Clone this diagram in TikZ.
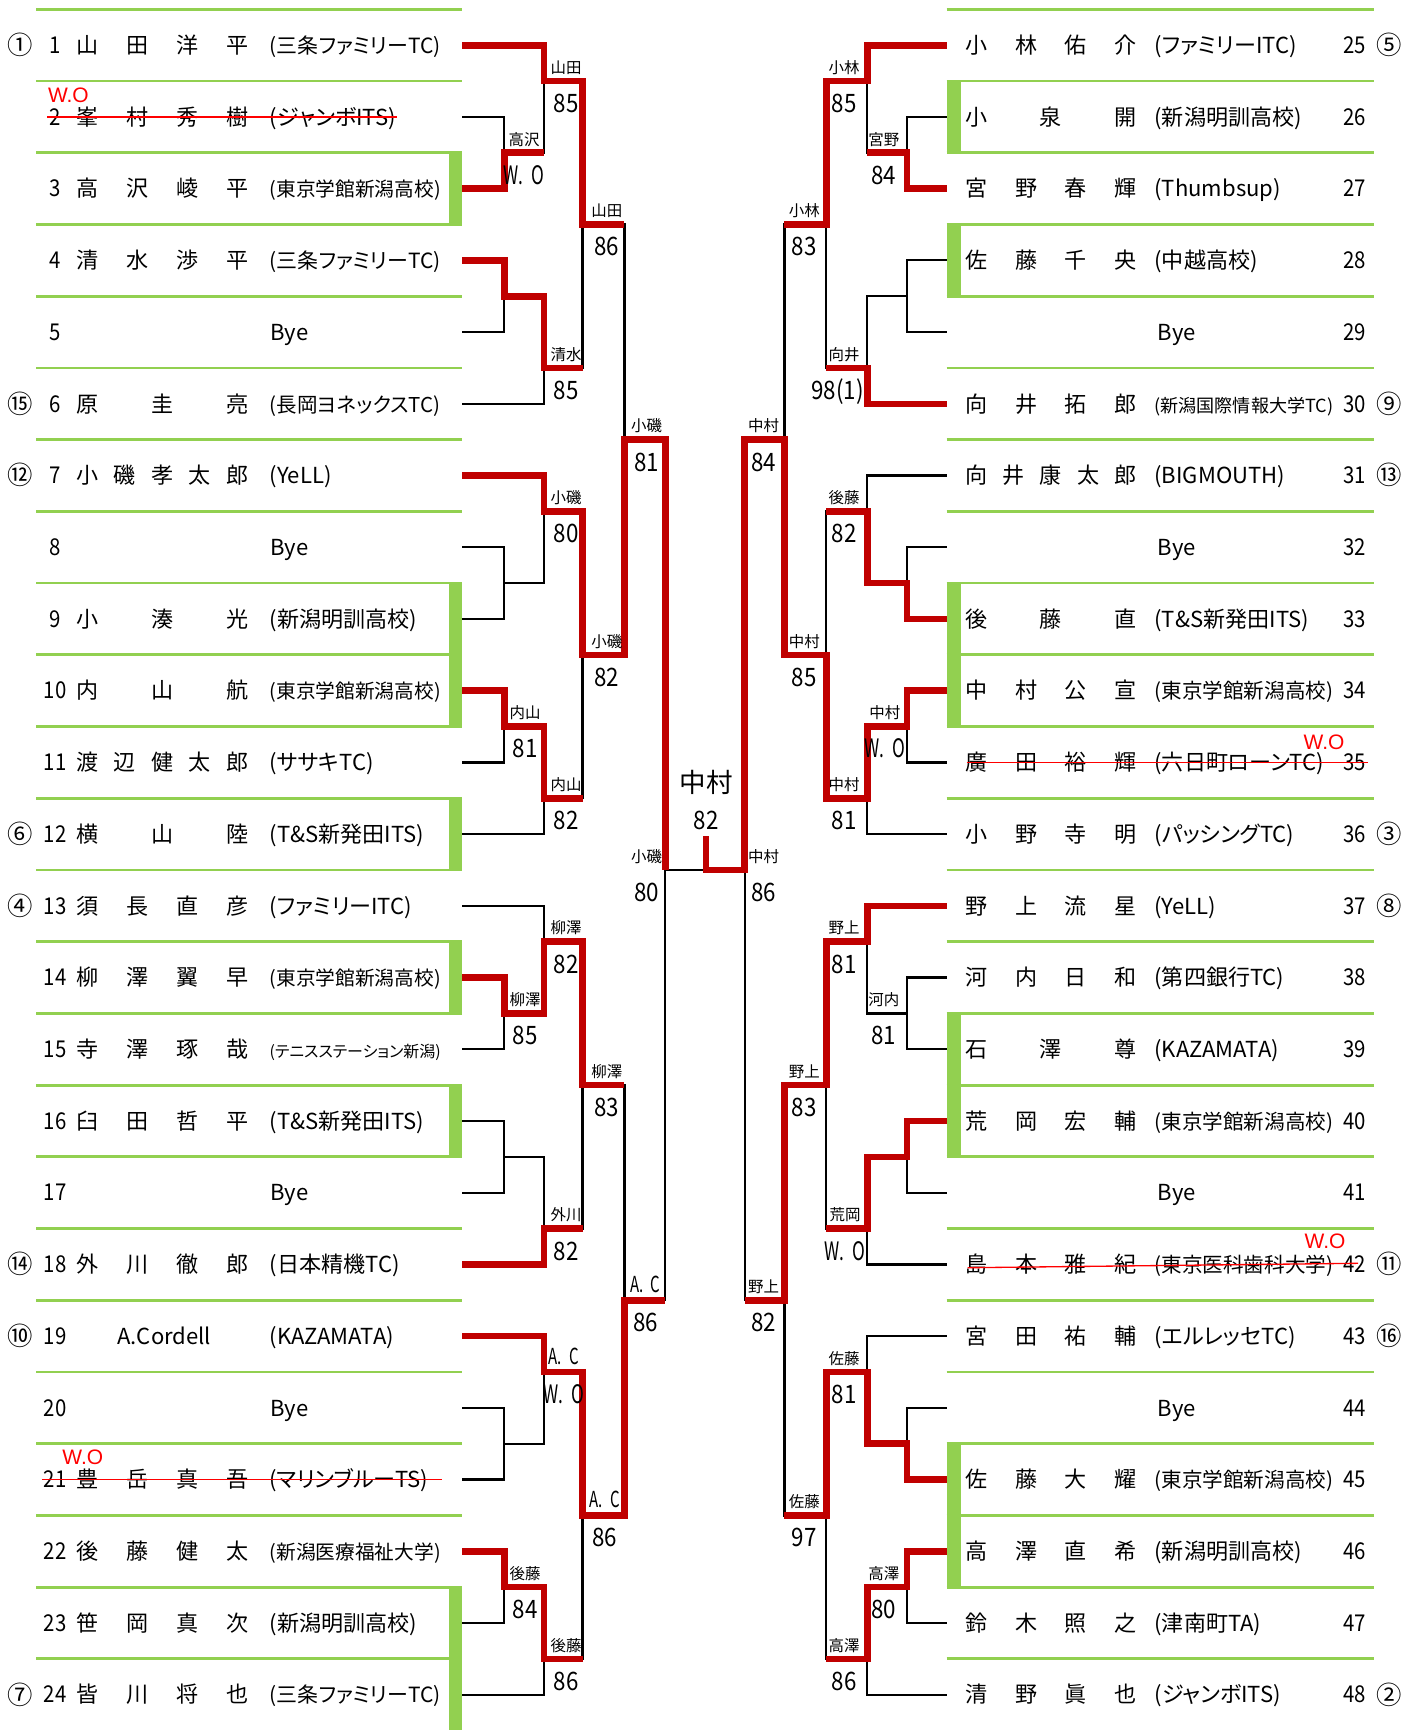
\documentclass[tikz,border=0pt]{standalone}
\usepackage{fontspec}
\usepackage{graphicx}
\setmainfont{Noto Sans CJK JP}
\newfontfamily\jpp[RawFeature=+palt]{Noto Sans CJK JP}
\newfontfamily\numf[FakeStretch=0.88]{Noto Sans CJK JP}
\newfontfamily\condf[FakeStretch=0.68]{Noto Sans CJK JP}
\newfontfamily\arialf{Liberation Sans}
\definecolor{winred}{HTML}{C00000}
\definecolor{boxgreen}{HTML}{92D050}
\definecolor{wored}{HTML}{FF0000}
\newsavebox\fitbox
\newcommand\fitclub[2]{\sbox\fitbox{#2}\ifdim\wd\fitbox>#1\relax\resizebox{#1}{!}{\usebox\fitbox}\else\usebox\fitbox\fi}
\newcommand\AC{{\condf\fontsize{10}{11}\selectfont A.\,\,C}}
\newcommand\WO{{\condf\fontsize{11.5}{13}\selectfont W.\,\,O}}
\tikzset{
 bk/.style={line width=1pt, black},
 win/.style={line width=3pt, winred},
 gline/.style={line width=1.25pt, boxgreen},
 rt/.style={inner sep=0pt, font=\fontsize{10}{12}\selectfont, anchor=base},
 seed/.style={inner sep=0pt, font=\fontsize{11.5}{13}\selectfont, anchor=base},
 rnum/.style={inner sep=0pt, font=\numf\fontsize{10.5}{12}\selectfont, anchor=base},
 club/.style={inner sep=0pt, font=\jpp\fontsize{10}{12}\selectfont, anchor=base west},
 nl/.style={inner sep=0pt, font=\fontsize{7}{8}\selectfont, anchor=base},
 sc/.style={inner sep=0pt, font=\numf\fontsize{11.5}{13}\selectfont, anchor=base},
 strike/.style={line width=0.6pt, wored},
 wo/.style={inner sep=0pt, font=\arialf\fontsize{9.5}{11}\selectfont, text=wored, anchor=base},
}
\newcommand\Lrow[6]{%
 \pgfmathsetmacro\yy{41+65*(#1-1)+7.5}%
 \ifx\relax#2\relax\else\node[seed] (Lseed#1) at (18,\yy+1) {#2};\fi
 \node[rnum] (Lnum#1) at (50,\yy) {#3};
 \foreach \nm [count=\nk from 0] in {#5}{\pgfmathsetmacro\xx{79+136*\nk/(#4-1)}\node[rt] (Lname#1x\nk) at (\xx,\yy) {\nm};}
 \node[club] (Lclub#1) at (244,\yy) {\fitclub{77.5pt}{#6}};
}
\newcommand\LBye[2]{%
 \pgfmathsetmacro\yy{41+65*(#1-1)+7.5}%
 \node[rnum] (Lnum#1) at (50,\yy) {#2};
 \node[rt, anchor=base west] (Lbye#1) at (245,\yy) {Bye};
}
\newcommand\Rrow[6]{%
 \pgfmathsetmacro\yy{41+65*(#1-1)+7.5}%
 \ifx\relax#2\relax\else\node[seed] (Rseed#1) at (1259,\yy+1) {#2};\fi
 \node[rnum] (Rnum#1) at (1228,\yy) {#3};
 \foreach \nm [count=\nk from 0] in {#5}{\pgfmathsetmacro\xx{885+135*\nk/(#4-1)}\node[rt] (Rname#1x\nk) at (\xx,\yy) {\nm};}
 \node[club] (Rclub#1) at (1046,\yy) {\fitclub{81pt}{#6}};
}
\newcommand\RBye[2]{%
 \pgfmathsetmacro\yy{41+65*(#1-1)+7.5}%
 \node[rnum] (Rnum#1) at (1228,\yy) {#2};
 \node[rt, anchor=base west] (Rbye#1) at (1049,\yy) {Bye};
}
\newcommand\mc[3]{\coordinate (#1) at (#2,{8.5+65*#3});}
\newcommand\mt[3]{\draw[bk] (#2) -| (#1); \draw[bk] (#3) -| (#1);}
\newcommand\lab[5]{%
 \node[nl] (#1t) at (#2,{8.5+65*#3-7}) {#4};
 \node[sc] (#1s) at (#2,{8.5+65*#3+28.5}) {#5};}
\begin{document}
\begin{tikzpicture}[x=0.5pt,y=-0.5pt]
\useasboundingbox (0,0) rectangle (1273,1568);
\fill[white] (0,0) rectangle (1273,1568);
% green separators
\foreach \k in {0,...,23}{
 \draw[gline] (33,{8.5+65*\k}) -- (419,{8.5+65*\k});
 \draw[gline] (858,{8.5+65*\k}) -- (1245,{8.5+65*\k});
}
% green bars left
\fill[boxgreen] (407,{8.5+65*2}) rectangle (419,{8.5+65*3});
\fill[boxgreen] (407,{8.5+65*8}) rectangle (419,{8.5+65*10});
\fill[boxgreen] (407,{8.5+65*11}) rectangle (419,{8.5+65*12});
\fill[boxgreen] (407,{8.5+65*13}) rectangle (419,{8.5+65*14});
\fill[boxgreen] (407,{8.5+65*15}) rectangle (419,{8.5+65*16});
\fill[boxgreen] (407,{8.5+65*22}) rectangle (419,1570);
% green bars right
\fill[boxgreen] (858,{8.5+65*1}) rectangle (871,{8.5+65*2});
\fill[boxgreen] (858,{8.5+65*3}) rectangle (871,{8.5+65*4});
\fill[boxgreen] (858,{8.5+65*8}) rectangle (871,{8.5+65*10});
\fill[boxgreen] (858,{8.5+65*14}) rectangle (871,{8.5+65*16});
\fill[boxgreen] (858,{8.5+65*20}) rectangle (871,{8.5+65*22});
% row end points
\foreach \i in {1,...,24}{
 \coordinate (rL\i) at (419,{41+65*(\i-1)});
 \coordinate (rR\i) at (858,{41+65*(\i-1)});
}
% left match points
\mc{a1}{457}{2}\mc{a2}{457}{4}\mc{a3}{457}{8}\mc{a4}{457}{10}
\mc{a5}{457}{14}\mc{a6}{457}{16}\mc{a7}{457}{20}\mc{a8}{457}{22}
\mc{b1}{493}{1}\mc{b2}{493}{5}\mc{b3}{493}{7}\mc{b4}{493}{11}
\mc{b5}{493}{13}\mc{b6}{493}{17}\mc{b7}{493}{19}\mc{b8}{493}{23}
\mc{c1}{528}{3}\mc{c2}{528}{9}\mc{c3}{528}{15}\mc{c4}{528}{21}
\mc{d1}{566}{6}\mc{d2}{566}{18}
\mc{e1}{603}{12}
% right match points
\mc{ra1}{822}{2}\mc{ra2}{822}{4}\mc{ra3}{822}{8}\mc{ra4}{822}{10}
\mc{ra5}{822}{14}\mc{ra6}{822}{16}\mc{ra7}{822}{20}\mc{ra8}{822}{22}
\mc{rb1}{786}{1}\mc{rb2}{786}{5}\mc{rb3}{786}{7}\mc{rb4}{786}{11}
\mc{rb5}{786}{13}\mc{rb6}{786}{17}\mc{rb7}{786}{19}\mc{rb8}{786}{23}
\mc{rc1}{749}{3}\mc{rc2}{749}{9}\mc{rc3}{749}{15}\mc{rc4}{749}{21}
\mc{rd1}{711}{6}\mc{rd2}{711}{18}
\mc{re1}{675}{12}
\coordinate (fin) at (640,{8.5+65*12});
\coordinate (fintop) at (640,758);
% black skeleton
\mt{a1}{rL2}{rL3}\mt{a2}{rL4}{rL5}\mt{a3}{rL8}{rL9}\mt{a4}{rL10}{rL11}
\mt{a5}{rL14}{rL15}\mt{a6}{rL16}{rL17}\mt{a7}{rL20}{rL21}\mt{a8}{rL22}{rL23}
\mt{b1}{rL1}{a1}\mt{b2}{a2}{rL6}\mt{b3}{rL7}{a3}\mt{b4}{a4}{rL12}
\mt{b5}{rL13}{a5}\mt{b6}{a6}{rL18}\mt{b7}{rL19}{a7}\mt{b8}{a8}{rL24}
\mt{c1}{b1}{b2}\mt{c2}{b3}{b4}\mt{c3}{b5}{b6}\mt{c4}{b7}{b8}
\mt{d1}{c1}{c2}\mt{d2}{c3}{c4}
\mt{e1}{d1}{d2}
\mt{ra1}{rR2}{rR3}\mt{ra2}{rR4}{rR5}\mt{ra3}{rR8}{rR9}\mt{ra4}{rR10}{rR11}
\mt{ra5}{rR14}{rR15}\mt{ra6}{rR16}{rR17}\mt{ra7}{rR20}{rR21}\mt{ra8}{rR22}{rR23}
\mt{rb1}{rR1}{ra1}\mt{rb2}{ra2}{rR6}\mt{rb3}{rR7}{ra3}\mt{rb4}{ra4}{rR12}
\mt{rb5}{rR13}{ra5}\mt{rb6}{ra6}{rR18}\mt{rb7}{rR19}{ra7}\mt{rb8}{ra8}{rR24}
\mt{rc1}{rb1}{rb2}\mt{rc2}{rb3}{rb4}\mt{rc3}{rb5}{rb6}\mt{rc4}{rb7}{rb8}
\mt{rd1}{rc1}{rc2}\mt{rd2}{rc3}{rc4}
\mt{re1}{rd1}{rd2}
\draw[bk] (e1) -- (re1);
% winners (red)
\draw[win] (rL1) -| (b1) -| (c1) -- (c1 -| d1);
\draw[win] (rL3) -| (a1) -- (a1 -| b1);
\draw[win] (rL4) -| (a2) -| (b2) -- (b2 -| c1);
\draw[win] (rL7) -| (b3) -| (c2) -| (d1) -| (e1);
\draw[win] (rL10) -| (a4) -| (b4) -- (b4 -| c2);
\draw[win] (rL14) -| (a5) -| (b5) -| (c3) -- (c3 -| d2);
\draw[win] (rL18) -| (b6) -- (b6 -| c3);
\draw[win] (rL19) -| (b7) -| (c4) -| (d2) -- (d2 -| e1);
\draw[win] (rL22) -| (a8) -| (b8) -- (b8 -| c4);
\draw[win] (rR1) -| (rb1) -| (rc1) -- (rc1 -| rd1);
\draw[win] (rR3) -| (ra1) -- (ra1 -| rb1);
\draw[win] (rR6) -| (rb2) -- (rb2 -| rc1);
\draw[win] (rR9) -| (ra3) -| (rb3) -- (rb3 -| rc2);
\draw[win] (rR10) -| (ra4) -| (rb4) -| (rc2) -| (rd1) -| (re1) -- (fin) -- (fintop);
\draw[win] (rR13) -| (rb5) -| (rc3) -| (rd2) -- (rd2 -| re1);
\draw[win] (rR16) -| (ra6) -| (rb6) -- (rb6 -| rc3);
\draw[win] (rR21) -| (ra7) -| (rb7) -| (rc4) -- (rc4 -| rd2);
\draw[win] (rR22) -| (ra8) -| (rb8) -- (rb8 -| rc4);
% match labels left
\lab{Ta1}{475}{2}{高沢}{\WO}
\lab{Ta4}{476}{10}{内山}{81}
\lab{Ta5}{476}{14}{柳澤}{85}
\lab{Ta8}{476}{22}{後藤}{84}
\lab{Tb1}{513}{1}{山田}{85}
\lab{Tb2}{513}{5}{清水}{85}
\lab{Tb3}{513}{7}{小磯}{80}
\lab{Tb4}{513}{11}{内山}{82}
\lab{Tb5}{513}{13}{柳澤}{82}
\lab{Tb6}{513}{17}{外川}{82}
\lab{Tb7}{511}{19}{\AC}{\WO}
\lab{Tb8}{513}{23}{後藤}{86}
\lab{Tc1}{550}{3}{山田}{86}
\lab{Tc2}{550}{9}{小磯}{82}
\lab{Tc3}{550}{15}{柳澤}{83}
\lab{Tc4}{548}{21}{\AC}{86}
\lab{Td1}{586}{6}{小磯}{81}
\lab{Te1}{586}{12}{小磯}{80}
\lab{Td2}{585}{18}{\AC}{86}
% match labels right
\lab{Ua1}{801}{2}{宮野}{84}
\lab{Ua4}{802}{10}{中村}{\WO}
\lab{Ua5}{801}{14}{河内}{81}
\lab{Ua8}{801}{22}{高澤}{80}
\lab{Ub1}{765}{1}{小林}{85}
\node[nl] (Ub2t) at (765,{8.5+65*5-7}) {向井};
\node[sc] (Ub2s) at (759,{8.5+65*5+28.5}) {98(1)};
\lab{Ub3}{765}{7}{後藤}{82}
\lab{Ub4}{765}{11}{中村}{81}
\lab{Ub5}{765}{13}{野上}{81}
\lab{Ub6}{766}{17}{荒岡}{\WO}
\lab{Ub7}{765}{19}{佐藤}{81}
\lab{Ub8}{765}{23}{高澤}{86}
\lab{Uc1}{729}{3}{小林}{83}
\lab{Uc2}{729}{9}{中村}{85}
\lab{Uc3}{729}{15}{野上}{83}
\lab{Uc4}{729}{21}{佐藤}{97}
\lab{Ud1}{692}{6}{中村}{84}
\lab{Ue1}{692}{12}{中村}{86}
\lab{Ud2}{692}{18}{野上}{82}
% champion
\node[inner sep=0pt, anchor=base, font=\fontsize{12}{14}\selectfont] (champ) at (640,718) {中村};
\node[sc] (champsc) at (640,752) {82};
% left players
\Lrow{1}{①}{1}{4}{山,田,洋,平}{(三条ファミリーTC)}
\Lrow{2}{}{2}{4}{峯,村,秀,樹}{(ジャンボITS)}
\Lrow{3}{}{3}{4}{高,沢,崚,平}{(東京学館新潟高校)}
\Lrow{4}{}{4}{4}{清,水,渉,平}{(三条ファミリーTC)}
\LBye{5}{5}
\Lrow{6}{⑮}{6}{3}{原,圭,亮}{(長岡ヨネックスTC)}
\Lrow{7}{⑫}{7}{5}{小,磯,孝,太,郎}{(YeLL)}
\LBye{8}{8}
\Lrow{9}{}{9}{3}{小,湊,光}{(新潟明訓高校)}
\Lrow{10}{}{10}{3}{内,山,航}{(東京学館新潟高校)}
\Lrow{11}{}{11}{5}{渡,辺,健,太,郎}{(ササキTC)}
\Lrow{12}{⑥}{12}{3}{横,山,陸}{(T\&S新発田ITS)}
\Lrow{13}{④}{13}{4}{須,長,直,彦}{(ファミリーITC)}
\Lrow{14}{}{14}{4}{柳,澤,翼,早}{(東京学館新潟高校)}
\Lrow{15}{}{15}{4}{寺,澤,琢,哉}{(テニスステーション新潟)}
\Lrow{16}{}{16}{4}{臼,田,哲,平}{(T\&S新発田ITS)}
\LBye{17}{17}
\Lrow{18}{⑭}{18}{4}{外,川,徹,郎}{(日本精機TC)}
\pgfmathsetmacro\yy{41+65*18+7.5}
\node[seed] (Lseed19) at (18,\yy+1) {⑩};
\node[rnum] (Lnum19) at (50,\yy) {19};
\node[rt, anchor=base west] (Lname19) at (106,\yy) {A.Cordell};
\node[club] (Lclub19) at (244,\yy) {(KAZAMATA)};
\LBye{20}{20}
\Lrow{21}{}{21}{4}{豊,岳,真,吾}{(マリンブルーTS)}
\Lrow{22}{}{22}{4}{後,藤,健,太}{(新潟医療福祉大学)}
\Lrow{23}{}{23}{4}{笹,岡,真,次}{(新潟明訓高校)}
\Lrow{24}{⑦}{24}{4}{皆,川,将,也}{(三条ファミリーTC)}
% right players
\Rrow{1}{⑤}{25}{4}{小,林,佑,介}{(ファミリーITC)}
\Rrow{2}{}{26}{3}{小,泉,開}{(新潟明訓高校)}
\Rrow{3}{}{27}{4}{宮,野,春,輝}{(Thumbsup)}
\Rrow{4}{}{28}{4}{佐,藤,千,央}{(中越高校)}
\RBye{5}{29}
\Rrow{6}{⑨}{30}{4}{向,井,拓,郎}{(新潟国際情報大学TC)}
\Rrow{7}{⑬}{31}{5}{向,井,康,太,郎}{(BIGMOUTH)}
\RBye{8}{32}
\Rrow{9}{}{33}{3}{後,藤,直}{(T\&S新発田ITS)}
\Rrow{10}{}{34}{4}{中,村,公,宣}{(東京学館新潟高校)}
\Rrow{11}{}{35}{4}{廣,田,裕,輝}{(六日町ローンTC)}
\Rrow{12}{③}{36}{4}{小,野,寺,明}{(パッシングTC)}
\Rrow{13}{⑧}{37}{4}{野,上,流,星}{(YeLL)}
\Rrow{14}{}{38}{4}{河,内,日,和}{(第四銀行TC)}
\Rrow{15}{}{39}{3}{石,澤,尊}{(KAZAMATA)}
\Rrow{16}{}{40}{4}{荒,岡,宏,輔}{(東京学館新潟高校)}
\RBye{17}{41}
\Rrow{18}{⑪}{42}{4}{島,本,雅,紀}{(東京医科歯科大学)}
\Rrow{19}{⑯}{43}{4}{宮,田,祐,輔}{(エルレッセTC)}
\RBye{20}{44}
\Rrow{21}{}{45}{4}{佐,藤,大,耀}{(東京学館新潟高校)}
\Rrow{22}{}{46}{4}{高,澤,直,希}{(新潟明訓高校)}
\Rrow{23}{}{47}{4}{鈴,木,照,之}{(津南町TA)}
\Rrow{24}{②}{48}{4}{清,野,眞,也}{(ジャンボITS)}
% walkovers
\draw[strike] (43,106) -- (360,106);
\node[wo] (wo2) at (62,93) {W.O};
\draw[strike] (38,1341) -- (401,1341);
\node[wo] (wo21) at (75,1327) {W.O};
\draw[strike] (876,691) -- (1240,691);
\node[wo] (wo35) at (1200,679) {W.O};
\draw[strike] (877,1149) -- (1231,1145);
\node[wo] (wo42) at (1201,1132) {W.O};
\end{tikzpicture}
\end{document}
